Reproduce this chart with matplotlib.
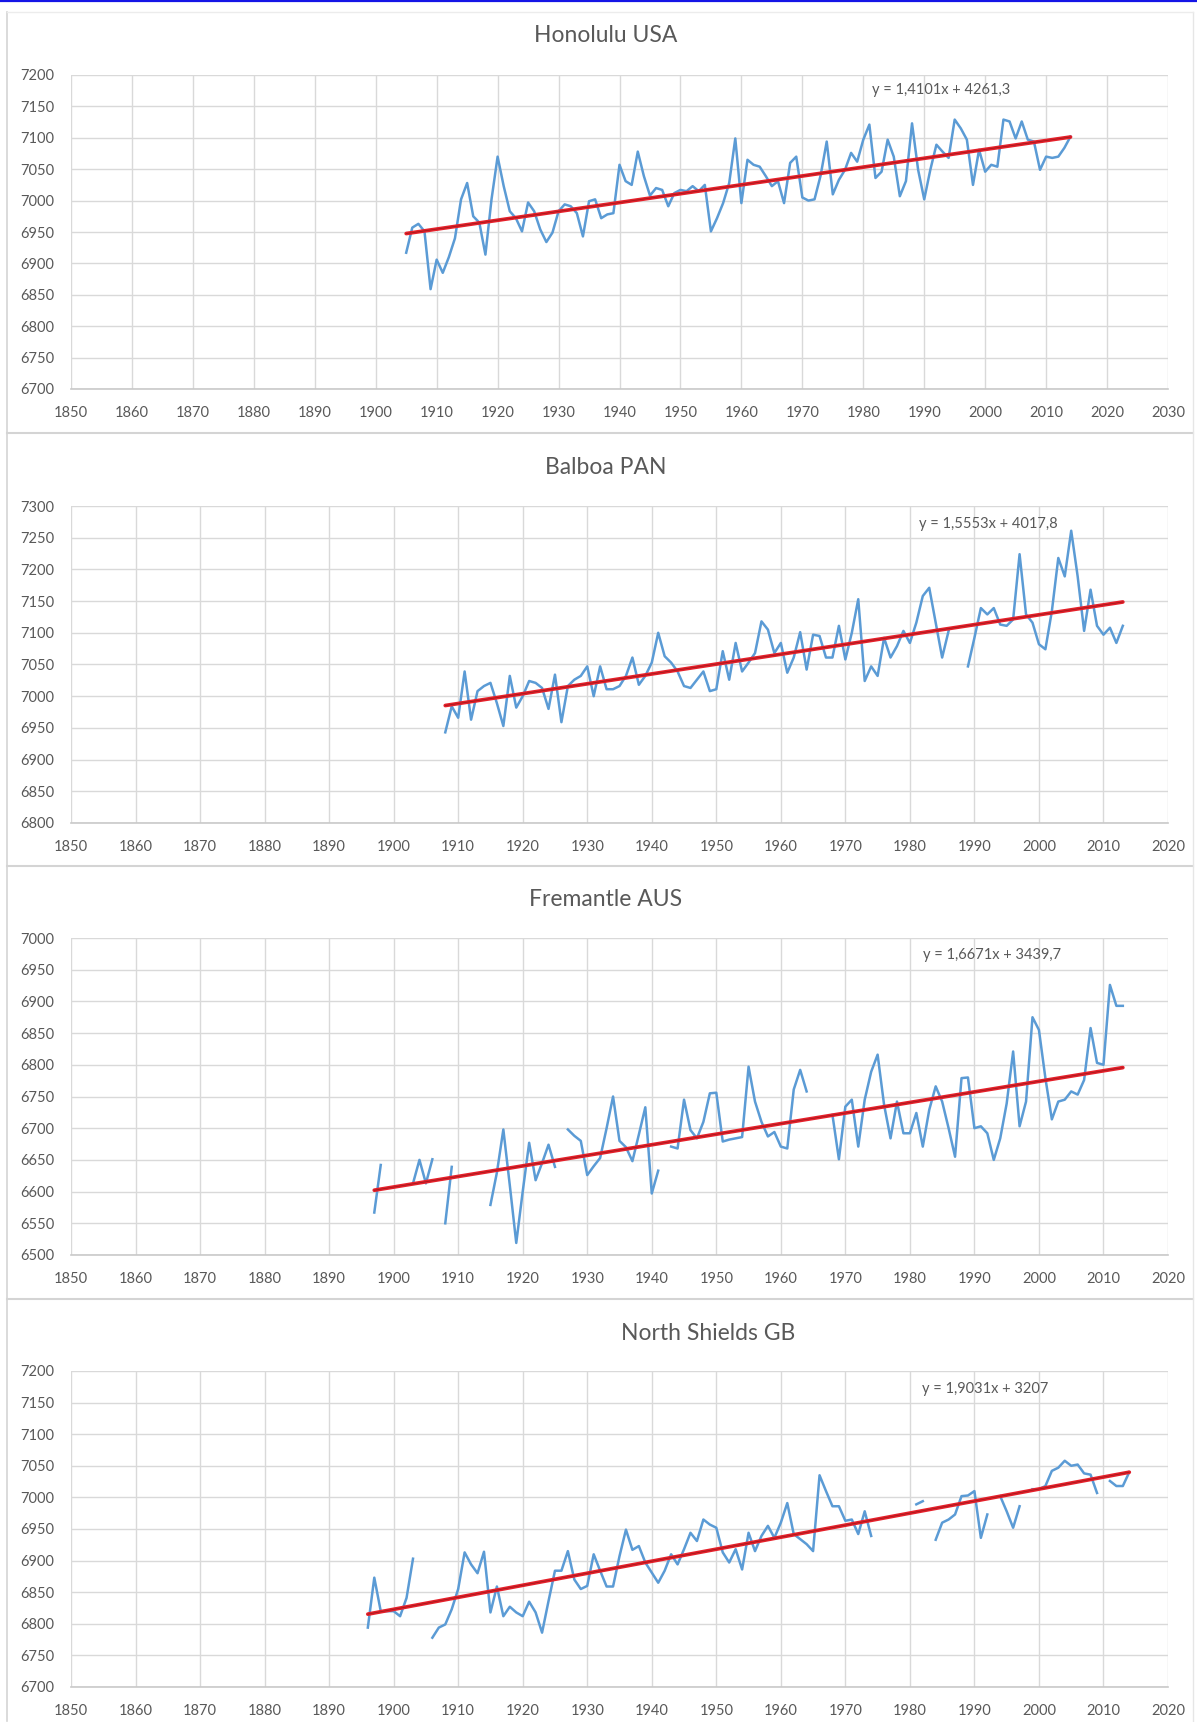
import numpy as np
import matplotlib
matplotlib.use("Agg")
import matplotlib.pyplot as plt
from matplotlib.lines import Line2D

plt.rcParams['font.family'] = ['Lato', 'DejaVu Sans']

# ---------------- data ----------------
titles = ["Honolulu USA", "Balboa PAN", "Fremantle AUS", "North Shields GB"]
equations = ["y = 1,4101x + 4261,3", "y = 1,5553x + 4017,8",
             "y = 1,6671x + 3439,7", "y = 1,9031x + 3207"]
slopes = [1.4101, 1.5553, 1.6671, 1.9031]
intercepts = [4261.3, 4017.8, 3439.7, 3207.0]
first_years = [1905, 1908, 1897, 1896]
last_years = [2014, 2013, 2013, 2014]
x_max = [2030, 2020, 2020, 2020]
y_min = [6700, 6800, 6500, 6700]
y_max = [7200, 7300, 7000, 7200]

honolulu = [
    6917, 6957, 6963, 6951, 6859,                                  # 1905-1909
    6906, 6885, 6910, 6940, 7002, 7028, 6975, 6965, 6914, 7002,    # 1910s
    7070, 7023, 6983, 6972, 6951, 6997, 6983, 6954, 6934, 6949,    # 1920s
    6983, 6994, 6991, 6980, 6943, 6999, 7002, 6972, 6978, 6980,    # 1930s
    7057, 7031, 7025, 7078, 7039, 7008, 7020, 7017, 6991, 7012,    # 1940s
    7017, 7015, 7023, 7015, 7025, 6951, 6972, 6996, 7028, 7099,    # 1950s
    6996, 7065, 7057, 7054, 7039, 7023, 7031, 6996, 7060, 7070,    # 1960s
    7005, 7000, 7002, 7040, 7094, 7010, 7033, 7049, 7076, 7062,    # 1970s
    7097, 7121, 7036, 7046, 7097, 7070, 7007, 7031, 7123, 7049,    # 1980s
    7002, 7049, 7089, 7078, 7068, 7129, 7115, 7097, 7025, 7081,    # 1990s
    7046, 7057, 7054, 7129, 7126, 7099, 7126, 7097, 7094, 7049,    # 2000s
    7070, 7068, 7070, 7084, 7102,                                  # 2010-2014
]

balboa = [
    6943, 6984,                                                    # 1908-1909
    6966, 7039, 6963, 7008, 7016, 7021, 6989, 6953, 7032, 6982,    # 1910s
    7000, 7024, 7021, 7013, 6980, 7034, 6959, 7016, 7026, 7032,    # 1920s
    7047, 7000, 7047, 7011, 7011, 7016, 7032, 7061, 7018, 7032,    # 1930s
    7053, 7100, 7063, 7053, 7039, 7016, 7013, 7026, 7039, 7008,    # 1940s
    7011, 7071, 7026, 7084, 7039, 7053, 7068, 7118, 7105, 7068,    # 1950s
    7084, 7037, 7061, 7101, 7042, 7097, 7095, 7061, 7061, 7111,    # 1960s
    7058, 7100, 7153, 7024, 7047, 7032, 7092, 7061, 7079, 7103,    # 1970s
    7084, 7116, 7158, 7171, 7116, 7061, 7103, None, None, 7047,    # 1980s
    7092, 7139, 7129, 7139, 7113, 7111, 7121, 7224, 7129, 7116,    # 1990s
    7082, 7074, 7134, 7218, 7189, 7261, 7189, 7103, 7168, 7111,    # 2000s
    7097, 7108, 7084, 7111,                                        # 2010-2013
]

fremantle = [
    6567, 6642, None,                                              # 1897-1899
    None, None, None, 6613, 6650, 6613, 6651, None, 6550, 6639,    # 1900s
    None, None, None, None, None, 6579, 6630, 6698, 6610, 6519,    # 1910s
    6600, 6677, 6618, 6645, 6674, 6639, None, 6698, 6688, 6680,    # 1920s
    6626, 6640, 6653, 6700, 6750, 6680, 6670, 6648, 6690, 6733,    # 1930s
    6597, 6633, None, 6671, 6668, 6745, 6697, 6684, 6710, 6755,    # 1940s
    6756, 6679, 6682, 6684, 6686, 6797, 6742, 6710, 6687, 6694,    # 1950s
    6671, 6668, 6761, 6792, 6758, None, None, None, 6721, 6651,    # 1960s
    6734, 6745, 6671, 6745, 6789, 6816, 6737, 6684, 6742, 6692,    # 1970s
    6692, 6724, 6671, 6729, 6766, 6742, 6700, 6655, 6779, 6780,    # 1980s
    6700, 6703, 6692, 6650, 6684, 6739, 6821, 6703, 6742, 6875,    # 1990s
    6855, 6779, 6714, 6742, 6745, 6758, 6753, 6776, 6858, 6803,    # 2000s
    6800, 6926, 6893, 6893,                                        # 2010-2013
]

north_shields = [
    6794, 6873, 6820, 6820,                                        # 1896-1899
    6820, 6812, 6841, 6903, None, None, 6778, 6794, 6799, 6823,    # 1900s
    6855, 6913, 6894, 6880, 6914, 6818, 6859, 6812, 6827, 6818,    # 1910s
    6812, 6835, 6818, 6786, 6836, 6884, 6884, 6915, 6870, 6855,    # 1920s
    6860, 6910, 6884, 6859, 6859, 6907, 6949, 6917, 6923, 6897,    # 1930s
    6881, 6865, 6884, 6910, 6894, 6918, 6944, 6931, 6965, 6957,    # 1940s
    6952, 6913, 6897, 6918, 6886, 6944, 6915, 6939, 6955, 6936,    # 1950s
    6960, 6991, 6942, 6934, 6926, 6915, 7035, 7010, 6986, 6986,    # 1960s
    6963, 6965, 6942, 6978, 6939, None, None, None, None, None,    # 1970s
    None, 6989, 6994, None, 6933, 6960, 6965, 6973, 7002, 7003,    # 1980s
    7010, 6936, 6973, None, 7002, 6978, 6952, 6986, None, 7013,    # 1990s
    7013, 7018, 7042, 7047, 7058, 7050, 7052, 7038, 7036, 7007,    # 2000s
    None, 7026, 7018, 7018, 7040,                                  # 2010-2014
]

series = [honolulu, balboa, fremantle, north_shields]

# ---------------- layout (pixels) ----------------
W, H = 1197, 1722
fig = plt.figure(figsize=(W / 100, H / 100), dpi=100)
fig.patch.set_facecolor("white")

plot_left, plot_right = 71, 1168
plot_tops = [75, 506, 938, 1371]
plot_bottoms = [389, 823, 1255, 1687]
title_pos = [(606, 35), (606, 467), (606, 899), (708, 1333)]
eq_pos = [(941, 90), (988, 524), (992, 955), (985, 1389)]

def fx(px):
    return px / W

def fy(py):
    return 1 - py / H

grid_col = "#D9D9D9"
text_col = "#595959"
blue = "#5B9BD5"

for i in range(4):
    ax = fig.add_axes([fx(plot_left), fy(plot_bottoms[i]),
                       fx(plot_right - plot_left),
                       (plot_bottoms[i] - plot_tops[i]) / H])
    years = np.arange(first_years[i], last_years[i] + 1)
    vals = np.array([np.nan if v is None else v for v in series[i]], dtype=float)
    ax.plot(years, vals, color=blue, lw=1.8, solid_joinstyle="round", zorder=3)

    tx = np.array([first_years[i], last_years[i]], dtype=float)
    ty = slopes[i] * tx + intercepts[i]
    ax.plot(tx, ty, color="#E5202A", lw=2.7, solid_capstyle="round", zorder=4)
    ax.plot(tx, ty, color="#A31A1E", lw=0.6, zorder=5)

    ax.set_xlim(1850, x_max[i])
    ax.set_ylim(y_min[i], y_max[i])
    ax.set_xticks(np.arange(1850, x_max[i] + 1, 10))
    ax.set_yticks(np.arange(y_min[i], y_max[i] + 1, 50))
    ax.grid(True, color=grid_col, lw=1.0, zorder=0)
    ax.set_axisbelow(True)
    for s in ["left", "right", "top"]:
        ax.spines[s].set_visible(False)
    ax.spines["bottom"].set_color("#C9C9C9")
    ax.spines["bottom"].set_linewidth(1.2)
    ax.tick_params(axis="both", length=0, labelsize=10.5, labelcolor=text_col)
    ax.tick_params(axis="y", pad=12)
    ax.tick_params(axis="x", pad=12)

    fig.text(fx(title_pos[i][0]), fy(title_pos[i][1]), titles[i],
             ha="center", va="center", fontsize=16.5, color=text_col)
    fig.text(fx(eq_pos[i][0]), fy(eq_pos[i][1]), equations[i],
             ha="center", va="center", fontsize=10.5, color=text_col)

# panel borders
border_col = "#D4D4D4"
for yb in [433, 866, 1299]:
    fig.add_artist(Line2D([fx(7), fx(1193)], [fy(yb), fy(yb)], color=border_col, lw=1.5))
fig.add_artist(Line2D([fx(7), fx(7)], [fy(12), fy(1721)], color=border_col, lw=1.2))
fig.add_artist(Line2D([fx(1193), fx(1193)], [fy(12), fy(1721)], color="#E6E6E6", lw=1.0))
fig.add_artist(Line2D([fx(7), fx(1193)], [fy(12), fy(12)], color="#ECECEC", lw=1.0))
# blue line at very top
fig.add_artist(Line2D([0, 1], [fy(1), fy(1)], color="#1515E6", lw=1.6))

fig.savefig("out.png", dpi=100, facecolor="white")
